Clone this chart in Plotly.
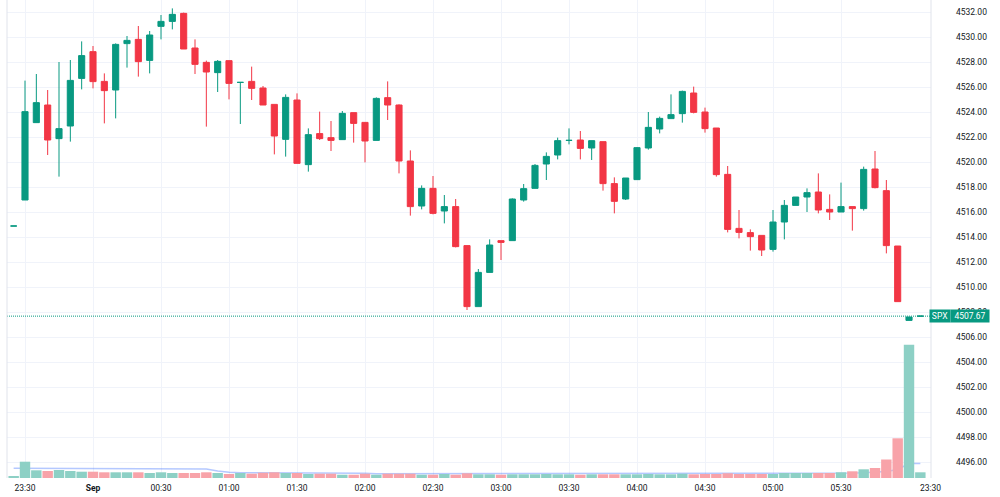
import plotly.graph_objects as go

# ---- data (5-minute candles, index -1 .. 79) ----
bar_index = list(range(-1, 80))

open_ = [4514.88, 4516.96, 4523.15, 4524.56, 4521.87, 4522.88, 4526.69, 4528.83, 4526.45, 4525.76,
         4529.47, 4529.81, 4528.13, 4530.85, 4531.25, 4531.89, 4529.12, 4527.97, 4527.15, 4528.11,
         4526.37, 4526.45, 4525.92, 4524.61, 4521.81, 4524.96, 4519.79, 4522.27, 4521.95, 4521.79,
         4523.95, 4523.17, 4521.73, 4525.15, 4524.56, 4520.08, 4516.48, 4517.89, 4516.08, 4516.43,
         4513.31, 4508.43, 4511.17, 4513.71, 4513.71, 4516.96, 4517.89, 4519.84, 4520.56, 4521.73,
         4521.76, 4521.12, 4521.63, 4518.27, 4517.04, 4518.59, 4521.12, 4522.64, 4523.47, 4523.87,
         4525.52, 4524.00, 4522.72, 4519.01, 4514.69, 4514.35, 4514.13, 4513.01, 4515.20, 4516.53,
         4517.20, 4517.60, 4516.21, 4516.00, 4516.43, 4516.27, 4519.44, 4517.71, 4513.28, 4507.33,
         4507.67]
high = [4514.88, 4526.51, 4527.04, 4525.76, 4528.00, 4528.16, 4529.65, 4529.28, 4527.09, 4529.49,
        4530.08, 4530.88, 4530.48, 4531.76, 4532.29, 4531.95, 4529.81, 4528.11, 4528.16, 4528.11,
        4526.37, 4527.63, 4526.08, 4524.61, 4525.41, 4525.49, 4522.69, 4524.03, 4523.28, 4524.08,
        4523.95, 4523.20, 4525.17, 4526.45, 4524.61, 4520.93, 4518.13, 4518.88, 4517.36, 4517.04,
        4513.31, 4511.44, 4513.81, 4513.71, 4517.09, 4518.24, 4519.84, 4520.77, 4521.95, 4522.69,
        4522.48, 4521.71, 4521.63, 4518.77, 4518.72, 4521.20, 4524.00, 4523.63, 4525.41, 4525.71,
        4526.03, 4524.35, 4522.72, 4519.68, 4516.16, 4514.61, 4514.13, 4516.16, 4516.96, 4517.20,
        4517.89, 4519.09, 4517.41, 4518.35, 4516.43, 4519.63, 4520.88, 4518.56, 4513.28, 4507.60,
        4507.67]
low = [4514.88, 4516.96, 4523.15, 4520.56, 4518.83, 4521.63, 4525.81, 4525.89, 4523.09, 4523.49,
       4527.55, 4526.83, 4527.09, 4529.81, 4530.61, 4529.04, 4527.04, 4522.83, 4525.60, 4525.01,
       4523.04, 4524.96, 4524.56, 4520.61, 4520.43, 4519.89, 4519.23, 4521.76, 4520.88, 4521.79,
       4521.55, 4519.97, 4521.73, 4523.36, 4519.09, 4515.71, 4516.21, 4515.81, 4515.09, 4513.17,
       4508.16, 4508.43, 4511.17, 4512.16, 4513.71, 4516.83, 4517.89, 4518.56, 4520.21, 4521.41,
       4520.21, 4520.16, 4517.71, 4515.89, 4516.96, 4518.59, 4520.99, 4522.29, 4523.47, 4523.15,
       4523.89, 4522.35, 4518.83, 4514.37, 4513.89, 4512.91, 4512.48, 4512.83, 4513.81, 4516.53,
       4516.00, 4515.89, 4515.36, 4516.00, 4514.51, 4516.11, 4517.89, 4512.69, 4508.83, 4507.33,
       4507.67]
close = [4514.88, 4524.03, 4524.75, 4521.76, 4522.67, 4526.53, 4528.51, 4526.43, 4525.71, 4529.41,
         4529.73, 4528.03, 4530.16, 4531.25, 4531.81, 4529.04, 4527.81, 4527.20, 4528.05, 4526.29,
         4526.37, 4525.89, 4524.56, 4522.08, 4525.17, 4519.89, 4522.19, 4521.87, 4521.73, 4523.89,
         4523.09, 4521.68, 4525.09, 4524.56, 4520.08, 4516.43, 4517.89, 4515.89, 4516.43, 4513.23,
         4508.43, 4511.17, 4513.36, 4513.57, 4517.04, 4517.87, 4519.73, 4520.45, 4521.71, 4521.73,
         4521.09, 4521.71, 4518.27, 4516.85, 4518.72, 4521.15, 4522.77, 4523.49, 4523.79, 4525.65,
         4523.97, 4522.67, 4518.99, 4514.61, 4514.37, 4514.03, 4512.96, 4515.20, 4516.53, 4517.20,
         4517.55, 4516.16, 4516.00, 4516.43, 4516.27, 4519.41, 4517.95, 4513.31, 4508.83, 4507.60,
         4507.67]

# volume (relative units) and its moving average
volume = [1.7, 16.3, 7.7, 7.0, 8.0, 7.0, 6.3, 6.3, 5.7, 5.7,
          5.7, 5.7, 5.0, 5.7, 5.0, 5.0, 5.0, 5.7, 5.0, 4.0,
          5.0, 4.3, 5.3, 5.7, 5.0, 5.0, 4.0, 4.3, 4.3, 3.3,
          3.3, 4.3, 3.3, 4.3, 4.3, 4.3, 3.3, 3.3, 4.0, 3.3,
          4.7, 3.7, 3.7, 3.3, 3.7, 3.7, 3.7, 4.0, 3.7, 3.7,
          3.3, 3.7, 3.7, 3.7, 3.7, 3.7, 4.0, 3.7, 3.7, 4.3,
          3.7, 4.0, 4.0, 4.7, 4.0, 4.0, 4.0, 4.0, 5.0, 5.0,
          5.0, 5.0, 5.0, 5.7, 6.7, 8.7, 10.0, 18.5, 39.7, 133.3,
          5.7]
volume_ma = [9.7, 9.7, 9.7, 9.7, 9.7, 9.7, 9.7, 9.7, 9.7, 9.7,
             9.7, 9.7, 9.7, 9.7, 9.7, 9.7, 9.7, 9.0, 7.0, 5.7,
             5.3, 5.3, 5.3, 5.3, 5.3, 5.3, 4.7, 4.7, 4.7, 4.7,
             4.7, 4.7, 4.3, 4.3, 4.3, 4.3, 4.3, 4.3, 4.3, 4.3,
             4.3, 4.3, 4.3, 4.3, 4.3, 4.3, 4.3, 4.3, 4.3, 4.3,
             4.3, 4.3, 4.3, 4.3, 4.3, 4.3, 4.3, 4.3, 4.3, 4.3,
             4.3, 4.3, 4.3, 4.3, 4.3, 4.3, 4.3, 4.3, 4.3, 4.3,
             4.3, 4.3, 4.3, 4.7, 5.0, 5.3, 5.7, 6.5, 8.5, 14.5,
             14.5]

time_tick_pos = [0, 6, 12, 18, 24, 30, 36, 42, 48, 54, 60, 66, 72, 79.9]
time_tick_labels = ["23:30", "<b>Sep</b>", "00:30", "01:00", "01:30", "02:00", "02:30",
                    "03:00", "03:30", "04:00", "04:30", "05:00", "05:30", "23:30"]
price_ticks = [4496 + 2 * k for k in range(19)]
symbol = "SPX"

UP = "#089981"
DOWN = "#F23645"
UP_VOL = "#8dd0c5"
DOWN_VOL = "#f8a3a9"
GRID = "#f0f3fa"

last_price = close[-1]
vol_colors = [UP_VOL if c >= o else DOWN_VOL for o, c in zip(open_, close)]

fig = go.Figure()

fig.add_trace(go.Candlestick(
    x=bar_index, open=open_, high=high, low=low, close=close,
    increasing=dict(line=dict(color=UP, width=1), fillcolor=UP),
    decreasing=dict(line=dict(color=DOWN, width=1), fillcolor=DOWN),
    whiskerwidth=0, hoverinfo="skip", name=symbol,
))

fig.add_trace(go.Scatter(
    x=bar_index, y=volume_ma, yaxis="y2", mode="lines",
    line=dict(color="rgba(41,98,255,0.35)", width=1.5), hoverinfo="skip",
))

fig.add_trace(go.Bar(
    x=bar_index, y=volume, yaxis="y3", width=0.92,
    marker=dict(color=vol_colors, line=dict(width=0)), hoverinfo="skip",
))

fig.update_layout(
    width=1000, height=497,
    margin=dict(l=7, r=69, t=0, b=19),
    plot_bgcolor="white", paper_bgcolor="white",
    showlegend=False, boxgap=0.23,
    font=dict(family="Roboto", size=8, color="#131722"),
    xaxis=dict(
        range=[-1.588, 79.94], tickmode="array", tickvals=time_tick_pos, ticktext=time_tick_labels,
        showgrid=True, gridcolor=GRID, gridwidth=1, zeroline=False, showline=False, ticks="",
        rangeslider=dict(visible=False), ticklabelstandoff=3, tickfont=dict(size=8.5, color="#131722"),
    ),
    yaxis=dict(
        side="right", range=[4494.72, 4532.96], tickmode="array", tickvals=price_ticks,
        ticktext=[f"{v:.2f}" for v in price_ticks],
        showgrid=True, gridcolor=GRID, gridwidth=1, zeroline=False, showline=False, ticks="",
        ticklabelstandoff=24, tickfont=dict(size=8.5, color="#131722"),
    ),
    yaxis2=dict(overlaying="y", range=[0, 478], visible=False, showgrid=False),
    yaxis3=dict(overlaying="y", range=[0, 478], visible=False, showgrid=False),
    shapes=[
        dict(type="line", xref="paper", yref="y", x0=0, x1=1, y0=last_price, y1=last_price,
             line=dict(color=UP, width=1, dash="1px,1px")),
        dict(type="line", xref="paper", yref="paper", x0=0, x1=0, y0=0, y1=1,
             line=dict(color="#e0e3eb", width=1)),
        dict(type="line", xref="paper", yref="paper", x0=1, x1=1, y0=0, y1=1,
             line=dict(color="#e0e3eb", width=1)),
    ],
    annotations=[
        dict(xref="paper", yref="y", x=1.0095, y=last_price, text=symbol, showarrow=False,
             bgcolor=UP, font=dict(color="white", size=8.5, family="Roboto"),
             width=16, height=8, borderpad=2, xanchor="center", yanchor="middle"),
        dict(xref="paper", yref="y", x=1.0422, y=last_price, text=f"{last_price:.2f}", showarrow=False,
             bgcolor=UP, font=dict(color="white", size=8.5, family="Roboto"),
             width=34, height=8, borderpad=2, xanchor="center", yanchor="middle"),
    ],
)

fig.write_html("out.html")
